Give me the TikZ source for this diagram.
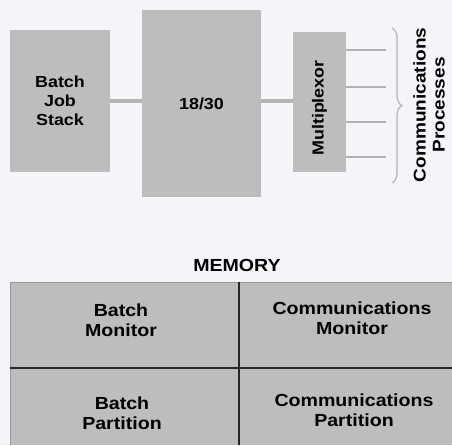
\documentclass[tikz,border=0pt]{standalone}
\usepackage{fontspec}
\newfontfamily\labelfont{Liberation Sans}[FakeStretch=1.12]
\usetikzlibrary{decorations.pathreplacing}
\definecolor{paper}{HTML}{F6F4F8}
\definecolor{boxgray}{HTML}{BDBDBD}
\definecolor{linkgray}{HTML}{B4B4B4}
\tikzset{
  unit/.style={fill=boxgray, draw=none, inner sep=0pt, align=center,
    font=\labelfont\bfseries\fontsize{16}{19}\selectfont},
  link/.style={linkgray, line width=3.5pt},
  port/.style={linkgray, line width=2.5pt},
  cell/.style={align=center, font=\labelfont\bfseries\fontsize{17.5}{19.5}\selectfont},
  divider/.style={black!85, line width=1.6pt}
}
\begin{document}
\begin{tikzpicture}[x=1pt, y=-1pt]
        \useasboundingbox[fill=paper] (0,0) rectangle (452,445);

        % Batch job stack, processor and multiplexor
        \node[unit, minimum width=100pt, minimum height=142pt] (stack) at (60,101) {Batch\\Job\\Stack};
        \node[unit, minimum width=119pt, minimum height=187pt] (cpu) at (201.5,103.5) {18/30};
        \node[unit, minimum width=140pt, minimum height=53pt, rotate=90] (mux) at (319.5,102) {Multiplexor\hspace*{12pt}};

        % Links
        \draw[link] (stack.east) -- (cpu.west |- stack.east);
        \draw[link] (cpu.east |- 0,101) -- (mux.north |- 0,101);

        % Lines to the communications processes
        \foreach \y/\name in {50/la, 87/lb, 122/lc, 157/ld} {
            \coordinate (\name) at (386,\y);
            \draw[port] (mux.south |- \name) -- (\name);
        }

        % Brace and label
        \coordinate (bracetop) at (392,28);
        \coordinate (bracebot) at (392,183);
        \draw[linkgray, line width=1.2pt, decorate, decoration={brace, amplitude=10pt}] (bracetop) -- (bracebot);
        \node[rotate=90, align=center, font=\labelfont\bfseries\fontsize{17}{19}\selectfont] (procs) at (429,105) {Communications\\Processes};

        % Memory map
        \node[font=\labelfont\bfseries\fontsize{17.5}{20}\selectfont] (memory) at (237,265) {MEMORY};
        \fill[boxgray] (10,282) rectangle (452,445);
        \draw[black!40, line width=0.8pt] (10,445) -- (10,282) -- (452,282);
        \draw[divider] (10,368) -- (452,368);
        \draw[divider, line width=1.3pt] (239,282) -- (239,445);

        \node[cell] (bmon) at (121,320) {Batch\\Monitor};
        \node[cell] (cmon) at (352,318) {Communications\\Monitor};
        \node[cell] (bpart) at (122,413) {Batch\\Partition};
        \node[cell] (cpart) at (354,410) {Communications\\Partition};
\end{tikzpicture}
\end{document}
